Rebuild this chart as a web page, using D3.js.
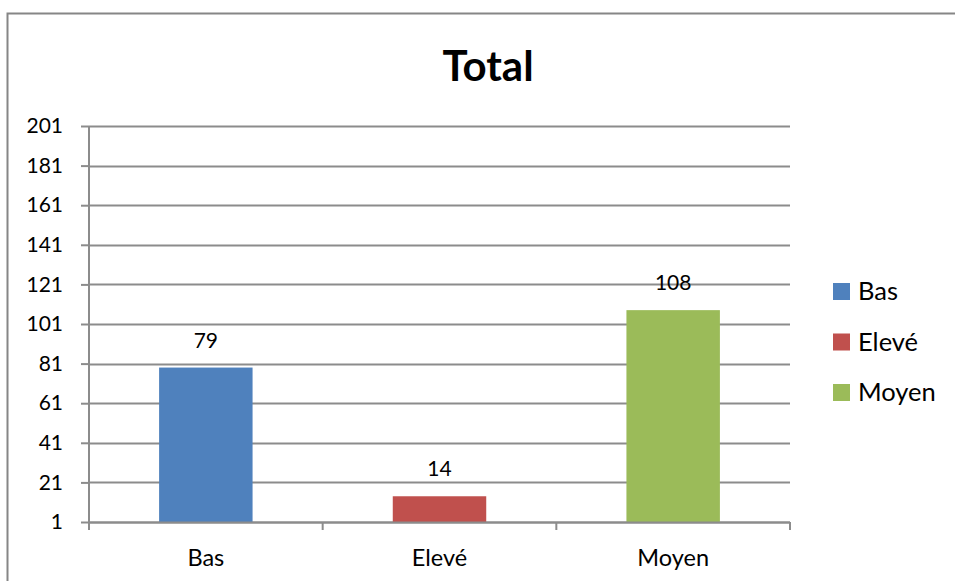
<!DOCTYPE html>
<html>
<head>
<meta charset="utf-8">
<script src="https://cdn.jsdelivr.net/npm/d3@7"></script>
<style>
  body { margin: 0; background: #fff; }
  text { font-family: Lato, "Noto Sans", sans-serif; fill: #000; }
  .axis-label { font-size: 21px; }
  .cat-label { font-size: 23.5px; }
</style>
</head>
<body>
<div id="chart"></div>
<script>
const categories = ["Bas", "Elevé", "Moyen"];
const values = [79, 14, 108];
const colors = ["#4F81BD", "#C0504D", "#9BBB59"];
const yTicks = [1, 21, 41, 61, 81, 101, 121, 141, 161, 181, 201];

const width = 955;
const height = 581;
const margin = { top: 126, right: 165, bottom: 59, left: 89 };
const innerwidth = width - margin.left - margin.right;
const innerheight = height - margin.top - margin.bottom;

const svg = d3.select("#chart")
    .append("svg")
    .attr("width", width)
    .attr("height", height);

// outer chart frame (runs off the right and bottom edges)
svg.append("rect")
    .attr("x", 7.5)
    .attr("y", 13.5)
    .attr("width", width + 20)
    .attr("height", height + 20)
    .attr("fill", "none")
    .attr("stroke", "#868686")
    .attr("stroke-width", 2);

const innerChart = svg.append("g")
    .attr("transform", `translate(${margin.left},${margin.top})`);

const xScale = d3.scaleBand()
    .domain(categories)
    .range([0, innerwidth])
    .paddingInner(0.6)
    .paddingOuter(0.3);

const xBounds = d3.scaleLinear()
    .domain([0, categories.length])
    .range([0, innerwidth]);

const yScale = d3.scaleLinear()
    .domain([1, 201])
    .range([innerheight, 0]);

// gridlines
innerChart.append("g")
    .selectAll("line")
    .data(yTicks)
    .join("line")
    .attr("x1", 0)
    .attr("x2", innerwidth)
    .attr("y1", d => Math.round(yScale(d)) + 0.5)
    .attr("y2", d => Math.round(yScale(d)) + 0.5)
    .attr("stroke", "#8c8c8c")
    .attr("stroke-width", 2);

// bars
innerChart.selectAll("rect.bar")
    .data(values)
    .join("rect")
    .attr("class", "bar")
    .attr("x", (d, i) => xScale(categories[i]))
    .attr("y", d => yScale(d))
    .attr("width", xScale.bandwidth())
    .attr("height", d => yScale(1) - yScale(d))
    .attr("fill", (d, i) => colors[i]);

// value labels
innerChart.selectAll("text.value")
    .data(values)
    .join("text")
    .attr("class", "axis-label")
    .attr("x", (d, i) => xScale(categories[i]) + xScale.bandwidth() / 2)
    .attr("y", d => yScale(d) - 20)
    .attr("text-anchor", "middle")
    .text(d => d);

// left axis
const leftAxis = d3.axisLeft(yScale)
    .tickValues(yTicks)
    .tickSize(8)
    .tickPadding(18);
const gy = innerChart.append("g").call(leftAxis);
gy.selectAll("path, line").attr("stroke", "#8c8c8c").attr("stroke-width", 2);
gy.select(".domain").attr("d", `M0,0V${innerheight}`);
gy.selectAll("text").attr("class", "axis-label").attr("font-family", null).attr("font-size", null);

// bottom axis with tick marks at category boundaries
const gx = innerChart.append("g")
    .attr("transform", `translate(0,${innerheight})`);
gx.append("line")
    .attr("x1", 0).attr("x2", innerwidth)
    .attr("y1", 0.5).attr("y2", 0.5)
    .attr("stroke", "#8c8c8c").attr("stroke-width", 2);
gx.selectAll("line.tick")
    .data(d3.range(categories.length + 1))
    .join("line")
    .attr("class", "tick")
    .attr("x1", d => xBounds(d)).attr("x2", d => xBounds(d))
    .attr("y1", 0).attr("y2", 8)
    .attr("stroke", "#8c8c8c").attr("stroke-width", 2);
gx.selectAll("text")
    .data(categories)
    .join("text")
    .attr("class", "cat-label")
    .attr("x", d => xScale(d) + xScale.bandwidth() / 2)
    .attr("y", 44)
    .attr("text-anchor", "middle")
    .text(d => d);

// title
svg.append("text")
    .attr("x", 488)
    .attr("y", 81)
    .attr("text-anchor", "middle")
    .attr("font-weight", "bold")
    .attr("font-size", 42)
    .text("Total");

// legend
const legend = svg.append("g")
    .attr("transform", "translate(833, 283)");
categories.forEach((cat, i) => {
    const g = legend.append("g")
        .attr("transform", `translate(0, ${i * 50.5})`);
    g.append("rect")
        .attr("width", 17)
        .attr("height", 17)
        .attr("fill", colors[i]);
    g.append("text")
        .attr("x", 25)
        .attr("y", 17)
        .attr("font-size", 25.5)
        .text(cat);
});
</script>
</body>
</html>
